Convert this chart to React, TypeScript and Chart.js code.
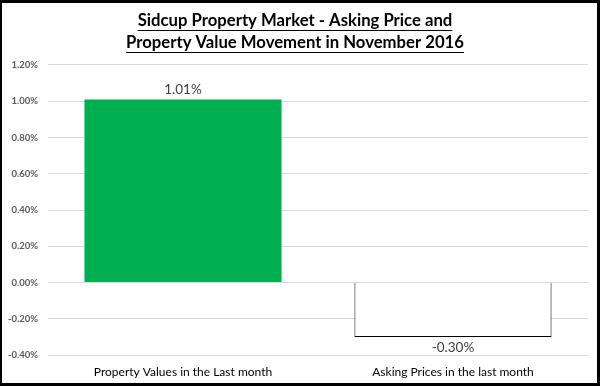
import React, { useEffect, useRef } from "react";
import { Chart, registerables } from "chart.js";

Chart.register(...registerables);

const titleLines = ["Sidcup Property Market - Asking Price and", "Property Value Movement in November 2016"];
const categories = ["Property Values in the Last month", "Asking Prices in the last month"];
const values = [1.01, -0.3];
const barColors = ["#00B050", "#FFFFFF"];
const barBorders = ["#00B050", "#000000"];
const yMin = -0.4;
const yMax = 1.2;
const yStep = 0.2;

const FONT = "Lato, 'Open Sans', sans-serif";
const TITLE_SIZE = 16.7;
const TITLE_LH = 22;

const underlinePlugin = {
  id: "underlineTitle",
  afterDraw(chart: any) {
    const tb = chart.titleBlock;
    if (!tb) return;
    const ctx = chart.ctx;
    const opts = tb.options;
    ctx.save();
    ctx.font = `bold ${TITLE_SIZE}px ${FONT}`;
    ctx.strokeStyle = "#000";
    ctx.lineWidth = 1;
    const cx = tb.left + tb.width / 2;
    titleLines.forEach((t, i) => {
      const w = ctx.measureText(t).width;
      const y = Math.round(tb.top + opts.padding.top + TITLE_LH * i + TITLE_LH / 2 + TITLE_SIZE / 2 + 1) + 0.5;
      ctx.beginPath();
      ctx.moveTo(cx - w / 2, y);
      ctx.lineTo(cx + w / 2, y);
      ctx.stroke();
    });
    ctx.restore();
  },
};

const valueLabelPlugin = {
  id: "valueLabels",
  afterDatasetsDraw(chart: any) {
    const ctx = chart.ctx;
    const meta = chart.getDatasetMeta(0);
    ctx.save();
    ctx.font = `13.5px ${FONT}`;
    ctx.fillStyle = "#404040";
    ctx.textAlign = "center";
    meta.data.forEach((el: any, i: number) => {
      const v = values[i];
      const label = v.toFixed(2) + "%";
      if (v >= 0) {
        ctx.textBaseline = "bottom";
        ctx.fillText(label, el.x, el.y - 3);
      } else {
        ctx.textBaseline = "top";
        ctx.fillText(label, el.x, el.y + 4);
      }
    });
    ctx.restore();
  },
};

export default function App() {
  const ref = useRef<HTMLCanvasElement | null>(null);
  useEffect(() => {
    if (!ref.current) return;
    const chart = new Chart(ref.current, {
      type: "bar",
      data: {
        labels: categories,
        datasets: [
          {
            data: values,
            backgroundColor: barColors,
            borderColor: barBorders,
            borderWidth: [0, 1],
            categoryPercentage: 0.73,
            barPercentage: 1,
          },
        ],
      },
      options: {
        animation: false,
        responsive: false,
        maintainAspectRatio: false,
        layout: { padding: { left: 0, right: 9, top: 0, bottom: 0 } },
        plugins: {
          legend: { display: false },
          tooltip: { enabled: false },
          title: {
            display: true,
            text: titleLines,
            color: "#000",
            font: { family: FONT, size: TITLE_SIZE, weight: "bold", lineHeight: TITLE_LH / TITLE_SIZE },
            padding: { top: 7, bottom: 11 },
          },
        },
        scales: {
          x: {
            grid: { display: false },
            border: { display: false },
            ticks: { color: "#000", font: { family: FONT, size: 12 }, padding: 2 },
            afterFit(s: any) {
              s.height = 28;
            },
          },
          y: {
            min: yMin,
            max: yMax,
            grid: { color: "#D9D9D9", drawTicks: false, lineWidth: 1 },
            border: { display: false },
            ticks: {
              stepSize: yStep,
              color: "#595959",
              padding: 10,
              font: { family: FONT, size: 9.5, weight: "bold" },
              callback: (v: any) => Number(v).toFixed(2) + "%",
            },
            afterFit(s: any) {
              s.width = 46;
            },
          },
        },
      },
      plugins: [underlinePlugin, valueLabelPlugin],
    });
    return () => chart.destroy();
  }, []);

  return (
    <div
      style={{
        position: "absolute",
        left: 0,
        top: 0,
        width: 600,
        height: 386,
        boxSizing: "border-box",
        borderStyle: "solid",
        borderColor: "#000",
        borderWidth: "3px 3px 3px 2px",
        background: "#fff",
      }}
    >
      <canvas ref={ref} width={595} height={380} style={{ display: "block" }} />
    </div>
  );
}
